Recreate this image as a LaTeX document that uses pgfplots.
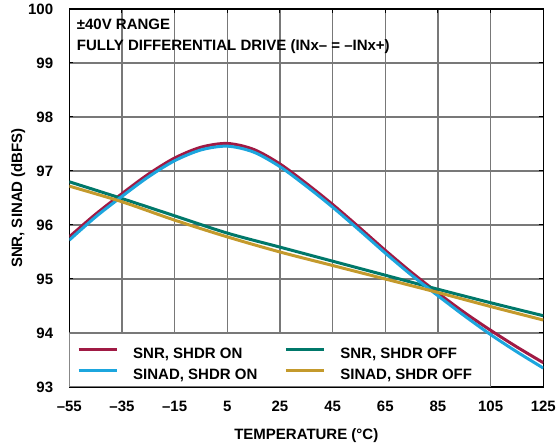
\documentclass[border=0pt]{standalone}
\usepackage{fontspec}
\setmainfont{Liberation Sans}
\usepackage{pgfplots}
\pgfplotsset{compat=1.18}
\usepackage{pgfplotstable}
\definecolor{cRed}{RGB}{160,26,68}
\definecolor{cBlue}{RGB}{28,166,222}
\definecolor{cTeal}{RGB}{0,120,106}
\definecolor{cGold}{RGB}{196,154,44}
\definecolor{gridc}{RGB}{120,120,120}

\pgfplotstableread{
T    v
-55  95.78
-45  96.20
-35  96.58
-25  96.94
-15  97.24
-5   97.44
5    97.51
15   97.40
25   97.13
35   96.77
45   96.38
55   95.96
65   95.53
75   95.12
85   94.74
95   94.38
105  94.05
115  93.74
125  93.45
}\snron

\pgfplotstableread{
T    v
-55  95.72
-45  96.15
-35  96.53
-25  96.89
-15  97.19
-5   97.39
5    97.46
15   97.35
25   97.08
35   96.72
45   96.33
55   95.91
65   95.48
75   95.07
85   94.69
95   94.32
105  93.97
115  93.65
125  93.35
}\sinadon

\pgfplotstableread{
T    v
-55  96.80
-35  96.49
-15  96.17
5    95.85
25   95.59
45   95.33
65   95.07
85   94.81
105  94.56
125  94.32
}\snroff

\pgfplotstableread{
T    v
-55  96.72
-35  96.43
-15  96.09
5    95.78
25   95.50
45   95.25
65   95.00
85   94.75
105  94.49
125  94.24
}\sinadoff

\begin{document}
\begin{tikzpicture}
\begin{axis}[
  at={(0pt,0pt)}, anchor=south west,
  width=474pt, height=378pt, scale only axis,
  xmin=-55, xmax=125, ymin=93, ymax=100,
  xtick={-55,-35,-15,5,25,45,65,85,105,125},
  xticklabels={–55,–35,–15,5,25,45,65,85,105,125},
  ytick={93,94,95,96,97,98,99,100},
  font=\fontsize{15}{18}\selectfont\bfseries,
  /pgf/number format/assume math mode=true,
  tick label style={font=\fontsize{15}{18}\selectfont\bfseries},
  yticklabel style={anchor=east, inner sep=0pt, xshift=-16pt},
  xticklabel style={anchor=north, inner sep=0pt, yshift=-13pt, text height=11pt},
  tick align=inside, major tick length=4pt,
  every tick/.style={black, line width=1pt},
  grid=major,
  major grid style={gridc, line width=1.2pt},
  axis line style={black, line width=1.5pt},
  xlabel={TEMPERATURE (°C)},
  ylabel={SNR, SINAD (dBFS)},
  xlabel style={at={(axis description cs:0.5,-0.1085)}, anchor=north, inner sep=0pt},
  ylabel style={at={(axis description cs:-0.1076,0.5)}, anchor=center, inner sep=0pt},
  legend columns=2,
  legend style={at={(axis description cs:0,0.142857)}, anchor=north west, xshift=7.7pt, yshift=-14.4pt,
    draw=none, fill=none, inner sep=0pt, row sep=7pt,
    nodes={inner sep=0pt, text height=11pt, text depth=3pt, anchor=west},
    /tikz/every odd column/.append style={column sep=15pt},
    /tikz/every even column/.append style={column sep=27pt}},
  legend image code/.code={\draw[#1] (0pt,5.4pt) -- (38pt,5.4pt);},
]
\addplot[fill=white, draw=gridc, line width=1.2pt, forget plot]
  coordinates {(-55,93) (105,93) (105,94) (-55,94) (-55,93)};
\addplot[cRed, line width=3pt, smooth] table[x=T,y=v] {\snron};
\addlegendentry{SNR, SHDR ON}
\addplot[cTeal, line width=3pt, smooth] table[x=T,y=v] {\snroff};
\addlegendentry{SNR, SHDR OFF}
\addplot[cBlue, line width=3pt, smooth] table[x=T,y=v] {\sinadon};
\addlegendentry{SINAD, SHDR ON}
\addplot[cGold, line width=3pt, smooth] table[x=T,y=v] {\sinadoff};
\addlegendentry{SINAD, SHDR OFF}
\node[anchor=base west, inner sep=0pt] at ([xshift=7.4pt,yshift=-20.3pt]axis description cs:0,1) {±40V RANGE};
\node[anchor=base west, inner sep=0pt] at ([xshift=7.4pt,yshift=-41.3pt]axis description cs:0,1) {FULLY DIFFERENTIAL DRIVE (INx– = –INx+)};
\end{axis}
\path (-69.3pt,-59pt) rectangle (488.7pt,387pt);
\end{tikzpicture}
\end{document}
